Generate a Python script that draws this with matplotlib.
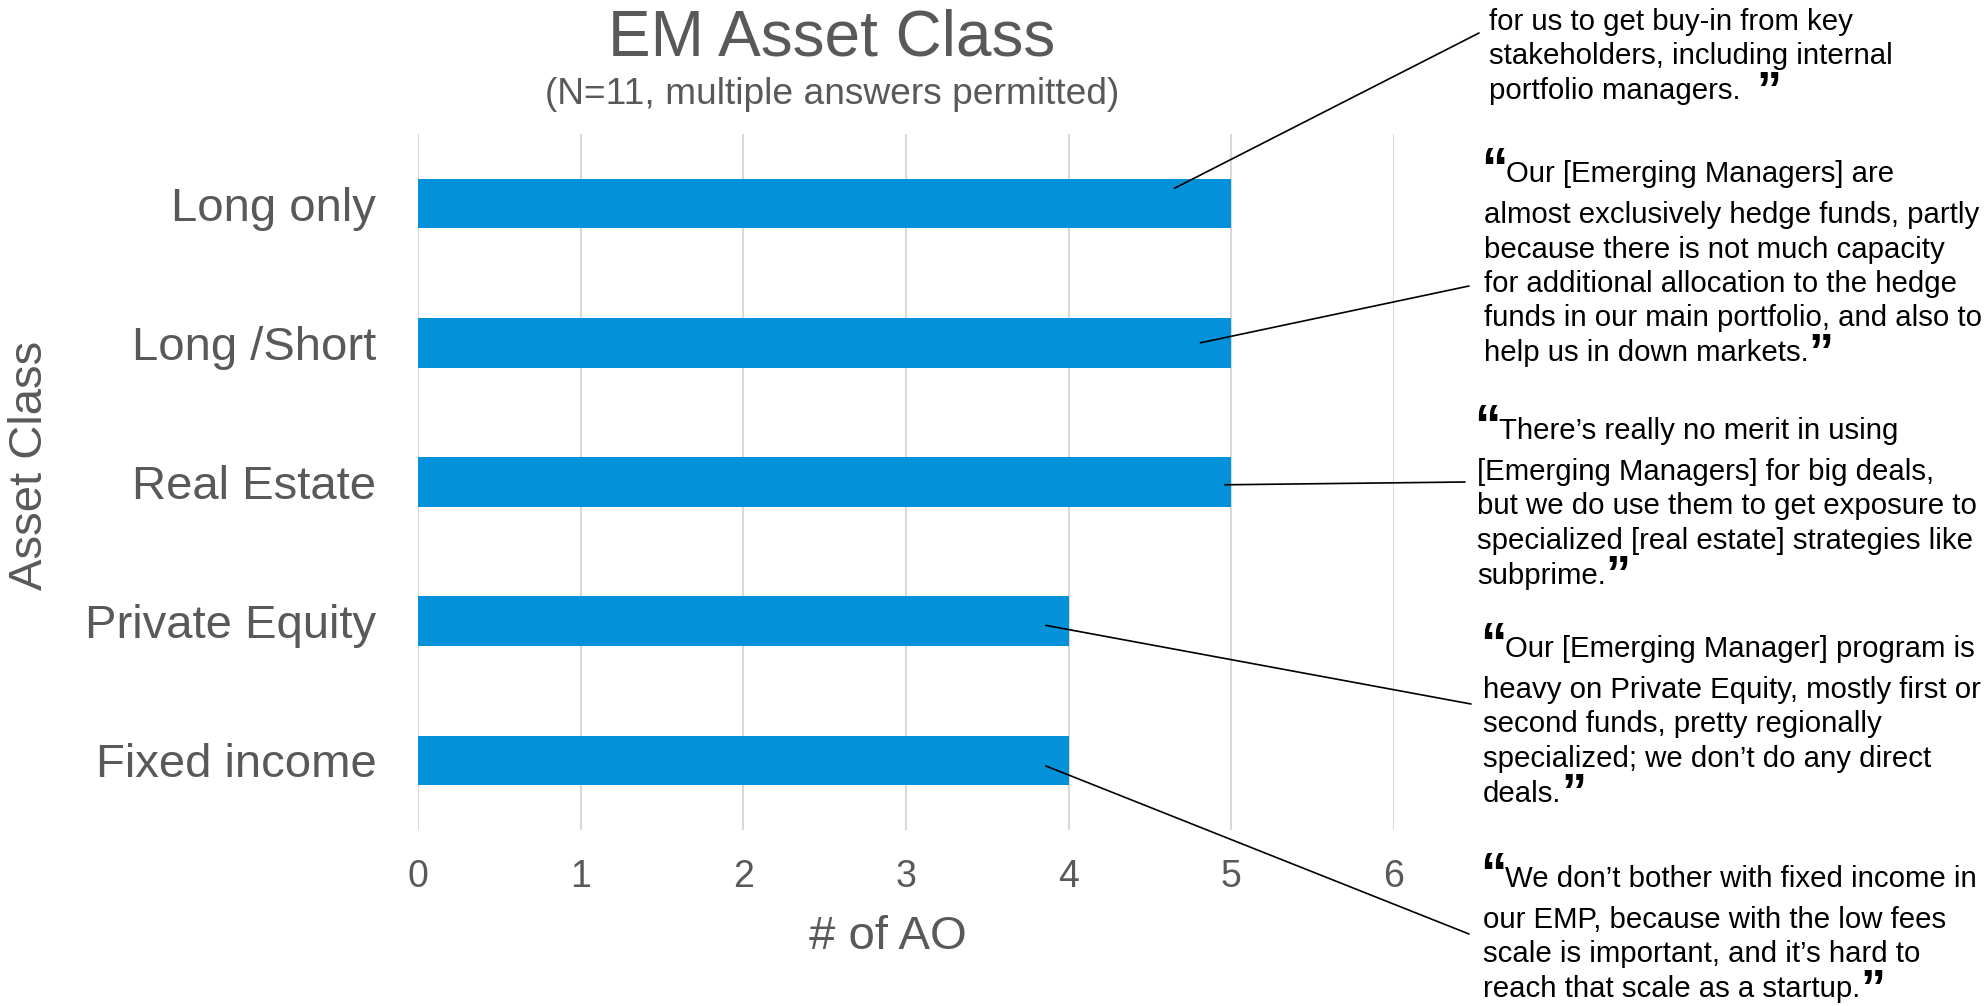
import matplotlib
matplotlib.use("Agg")
import matplotlib.pyplot as plt

# data
categories = ["Long only", "Long /Short", "Real Estate", "Private Equity", "Fixed income"]
counts = [5, 5, 5, 4, 4]
x_ticks = [0, 1, 2, 3, 4, 5, 6]

quote_lines = [
    ["for us to get buy-in from key", "stakeholders, including internal", "portfolio managers.  "],
    ["Our [Emerging Managers] are", "almost exclusively hedge funds, partly",
     "because there is not much capacity", "for additional allocation to the hedge",
     "funds in our main portfolio, and also to", "help us in down markets."],
    ["There\u2019s really no merit in using", "[Emerging Managers] for big deals,",
     "but we do use them to get exposure to", "specialized [real estate] strategies like",
     "subprime."],
    ["Our [Emerging Manager] program is", "heavy on Private Equity, mostly first or",
     "second funds, pretty regionally", "specialized; we don\u2019t do any direct", "deals."],
    ["We don\u2019t bother with fixed income in", "our EMP, because with the low fees",
     "scale is important, and it\u2019s hard to", "reach that scale as a startup."],
]

# layout (pixels from top-left)
W, H = 1985, 1006
quote_left = [1489, 1484, 1477, 1483, 1483]
quote_first = [30, 182, 439, 657, 887]
quote_open = [False, True, True, True, True]
line_gap = 34.5
first_gap = 41
# where each connector touches the bar: (offset from bar end, offset from bar centre)
link_bar = [(-0.35, -0.11), (-0.19, 0.0), (-0.04, 0.02), (-0.14, 0.03), (-0.14, 0.04)]
link_text = [(1479, 33), (1469, 286), (1465, 482), (1471, 704), (1469, 934)]

GRAY = "#595959"
BLUE = "#0391DA"
FONT = "Liberation Sans"
QSIZE = 21.2
plt.rcParams["font.family"] = [FONT, "DejaVu Sans"]


def fp(x, y):
    return x / W, 1 - y / H


fig = plt.figure(figsize=(W / 100, H / 100), dpi=100)
ax = fig.add_axes([418 / W, 1 - 830 / H, 976 / W, 696 / H])

ypos = list(range(len(categories)))
ax.barh(ypos, counts, height=0.355, color=BLUE, zorder=2)
ax.set_ylim(len(categories) - 0.5, -0.5)
ax.set_xlim(0, 6)
ax.set_xticks(x_ticks)
ax.set_xticklabels([str(t) for t in x_ticks])
ax.set_yticks(ypos)
ax.set_yticklabels(categories)
ax.tick_params(axis="y", length=0, pad=30, labelsize=34, labelcolor=GRAY)
ax.tick_params(axis="x", length=0, pad=21, labelsize=27, labelcolor=GRAY)
ax.grid(axis="x", color="#D9D9D9", linewidth=1.5, zorder=0)
ax.set_axisbelow(True)
for s in ax.spines.values():
    s.set_visible(False)

fig.text(*fp(832, 39), "EM Asset Class", fontsize=46, color=GRAY, ha="center", va="center")
fig.text(*fp(832, 95), "(N=11, multiple answers permitted)", fontsize=26.7, color=GRAY,
         ha="center", va="center")
fig.text(*fp(888, 937), "# of AO", fontsize=34, color=GRAY, ha="center", va="center")
fig.text(*fp(30, 465), "Asset Class", fontsize=34, color=GRAY, ha="center", va="center",
         rotation=90)

fig.canvas.draw()
renderer = fig.canvas.get_renderer()

for i, lines in enumerate(quote_lines):
    x0 = quote_left[i]
    y = quote_first[i]
    last = None
    for j, line in enumerate(lines):
        if j == 0 and quote_open[i]:
            q = fig.text(*fp(x0 - 3, y - 36), "\u201c", fontsize=38, fontweight="bold",
                         color="black", ha="left", va="top")
            bb = q.get_window_extent(renderer)
            last = fig.text(*fp(bb.x1 - 1, y), line, fontsize=QSIZE, color="black",
                            ha="left", va="baseline")
        else:
            last = fig.text(*fp(x0, y), line, fontsize=QSIZE, color="black",
                            ha="left", va="baseline")
        y += first_gap if (j == 0 and quote_open[i]) else line_gap
    bb = last.get_window_extent(renderer)
    fig.text(bb.x1 / W, (bb.y0 + bb.height) / H + 0.006, "\u201d", fontsize=36,
             fontweight="bold", color="black", ha="left", va="top")

    dx, dy = link_bar[i]
    ax.annotate("", xy=(counts[i] + dx, ypos[i] + dy), xycoords="data",
                xytext=fp(*link_text[i]), textcoords="figure fraction",
                arrowprops=dict(arrowstyle="-", color="black", lw=1.2,
                                shrinkA=0, shrinkB=0),
                annotation_clip=False)

fig.savefig("out.png", dpi=100)
